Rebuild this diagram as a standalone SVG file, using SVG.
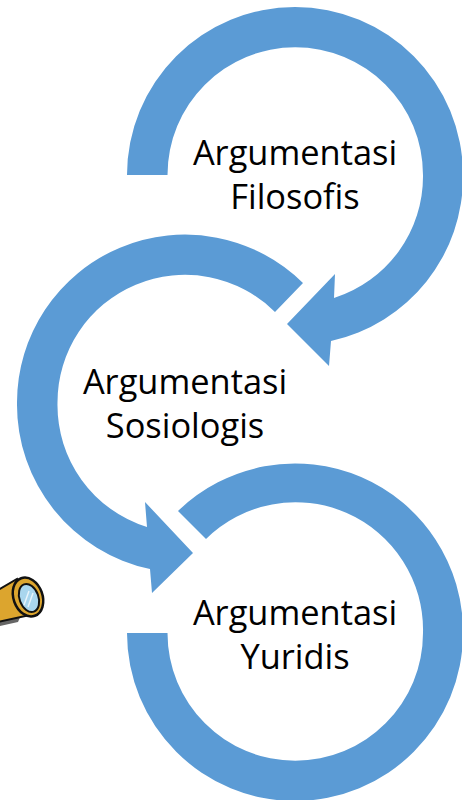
<svg xmlns="http://www.w3.org/2000/svg" width="462" height="800" viewBox="0 0 462 800">
<style>
.a{fill:#5b9bd5}
text{font-family:"Open Sans","Noto Sans",sans-serif;font-size:34.400px;fill:#000;text-anchor:middle}
</style>
<rect width="462" height="800" fill="#fff"/>
<g id="connectors">
<path class="a" d="M127 175A168 168 0 0 1 463 175A168 168 0 0 1 331 341L329 366L287 324L335 274L334 298A127.500 127.500 0 0 0 423 175A127.500 127.500 0 0 0 167.500 175Z"/>
<path class="a" d="M303 283A168 168 0 0 0 17 403A168 168 0 0 0 150 569L152 593L193 553L145 502L147 527A127.500 127.500 0 0 1 57.500 403A127.500 127.500 0 0 1 275 312Z"/>
<path class="a" d="M178 511A168 168 0 0 1 463 633A168 168 0 0 1 127 633L167.500 633A127.500 127.500 0 0 0 423 633A127.500 127.500 0 0 0 206 539Z"/>
</g>
<g id="telescope">
<path d="M0 618L22 613L18 622L0 626Z" fill="#666"/>
<path d="M-2 590L17 579L30 615L-2 622Z" fill="#dca52e" stroke="#111" stroke-width="2"/>
<ellipse cx="28" cy="597" rx="14.500" ry="20" transform="rotate(-20 28 597)" fill="#dca52e" stroke="#111" stroke-width="2.500"/>
<ellipse cx="29" cy="598" rx="9.500" ry="14.500" transform="rotate(-20 29 598)" fill="#a9d6ee" stroke="#111" stroke-width="2"/>
<path d="M24 605L29 591M28 607L33 593" stroke="#e8f4fb" stroke-width="1.500" fill="none"/>
</g>
<g id="node-filosofis"><text x="295" y="165">Argumentasi</text><text x="295" y="209">Filosofis</text></g>
<g id="node-sosiologis"><text x="185" y="394">Argumentasi</text><text x="185" y="438">Sosiologis</text></g>
<g id="node-yuridis"><text x="295" y="625">Argumentasi</text><text x="295" y="669">Yuridis</text></g>
</svg>
